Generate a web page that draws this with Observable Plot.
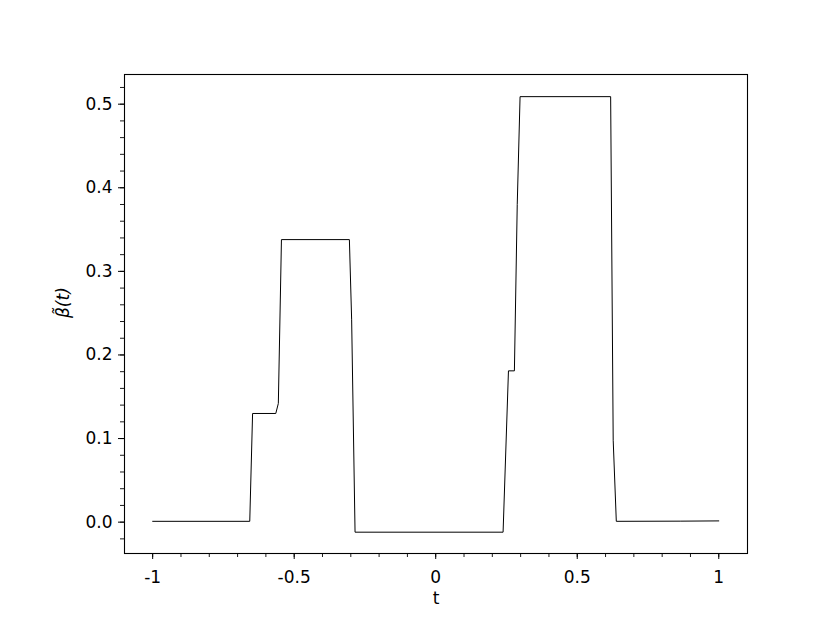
<!DOCTYPE html>
<html>
<head>
<meta charset="utf-8">
<script src="https://cdn.jsdelivr.net/npm/d3@7"></script>
<script src="https://cdn.jsdelivr.net/npm/@observablehq/plot@0.6"></script>
<style>
  html, body { margin: 0; padding: 0; background: #fff; }
  svg { font-family: "DejaVu Sans", sans-serif; }
</style>
</head>
<body>
<div id="chart"></div>
<script>
// Data (t, beta~(t))
const tValues = [-1.0, -0.657, -0.647, -0.565, -0.556, -0.545, -0.305, -0.297, -0.285, 0.238, 0.257, 0.278, 0.288, 0.298, 0.618, 0.627, 0.638, 0.866, 1.0];
const betaValues = [0.001, 0.001, 0.130, 0.130, 0.142, 0.338, 0.338, 0.242, -0.012, -0.012, 0.181, 0.181, 0.38, 0.509, 0.509, 0.098, 0.001, 0.0012, 0.0015];

const xTicks = [-1, -0.5, 0, 0.5, 1];
const xTickLabels = ["-1", "-0.5", "0", "0.5", "1"];
const xMinor = [-1, -0.9, -0.8, -0.7, -0.6, -0.5, -0.4, -0.3, -0.2, -0.1, 0, 0.1, 0.2, 0.3, 0.4, 0.5, 0.6, 0.7, 0.8, 0.9, 1];
const yTicks = [0, 0.1, 0.2, 0.3, 0.4, 0.5];
const yTickLabels = ["0.0", "0.1", "0.2", "0.3", "0.4", "0.5"];
const yMinor = [-0.02, 0, 0.02, 0.04, 0.06, 0.08, 0.1, 0.12, 0.14, 0.16, 0.18, 0.2, 0.22, 0.24, 0.26, 0.28, 0.3, 0.32, 0.34, 0.36, 0.38, 0.4, 0.42, 0.44, 0.46, 0.48, 0.5, 0.52];

const data = tValues.map((t, i) => ({t, b: betaValues[i]}));

const chart = Plot.plot({
  width: 830,
  height: 623,
  marginLeft: 124,
  marginRight: 83,
  marginTop: 74,
  marginBottom: 70,
  style: {fontFamily: "DejaVu Sans, sans-serif", fontSize: "17px", color: "#000", background: "#fff"},
  x: {domain: [-1.0995, 1.1015], label: null},
  y: {domain: [-0.0375, 0.5355], label: null},
  marks: [
    Plot.frame({stroke: "#000", strokeWidth: 1.1}),
    Plot.axisX(xMinor, {tickSize: 4, text: null, label: null, stroke: "#000", strokeWidth: 0.9}),
    Plot.axisY(yMinor, {tickSize: 4, text: null, label: null, stroke: "#000", strokeWidth: 0.9}),
    Plot.axisX(xTicks, {tickSize: 6, tickPadding: 11, stroke: "#000", strokeWidth: 1,
      tickFormat: (d) => xTickLabels[xTicks.indexOf(d)], fill: "#000", fontSize: 17, label: null}),
    Plot.axisY(yTicks, {tickSize: 6, tickPadding: 6, stroke: "#000", strokeWidth: 1,
      tickFormat: (d) => yTickLabels[yTicks.indexOf(d)], fill: "#000", fontSize: 17, label: null}),
    Plot.line(data, {x: "t", y: "b", stroke: "#000", strokeWidth: 1}),
    Plot.text(["t"], {frameAnchor: "bottom", dy: 50, fontSize: 17, fill: "#000"}),
    Plot.text(["β̃(t)"], {frameAnchor: "left", dx: -61, dy: 4, rotate: -90, fontSize: 17, fontStyle: "italic", fill: "#000"})
  ]
});
document.getElementById("chart").appendChild(chart);
</script>
</body>
</html>
